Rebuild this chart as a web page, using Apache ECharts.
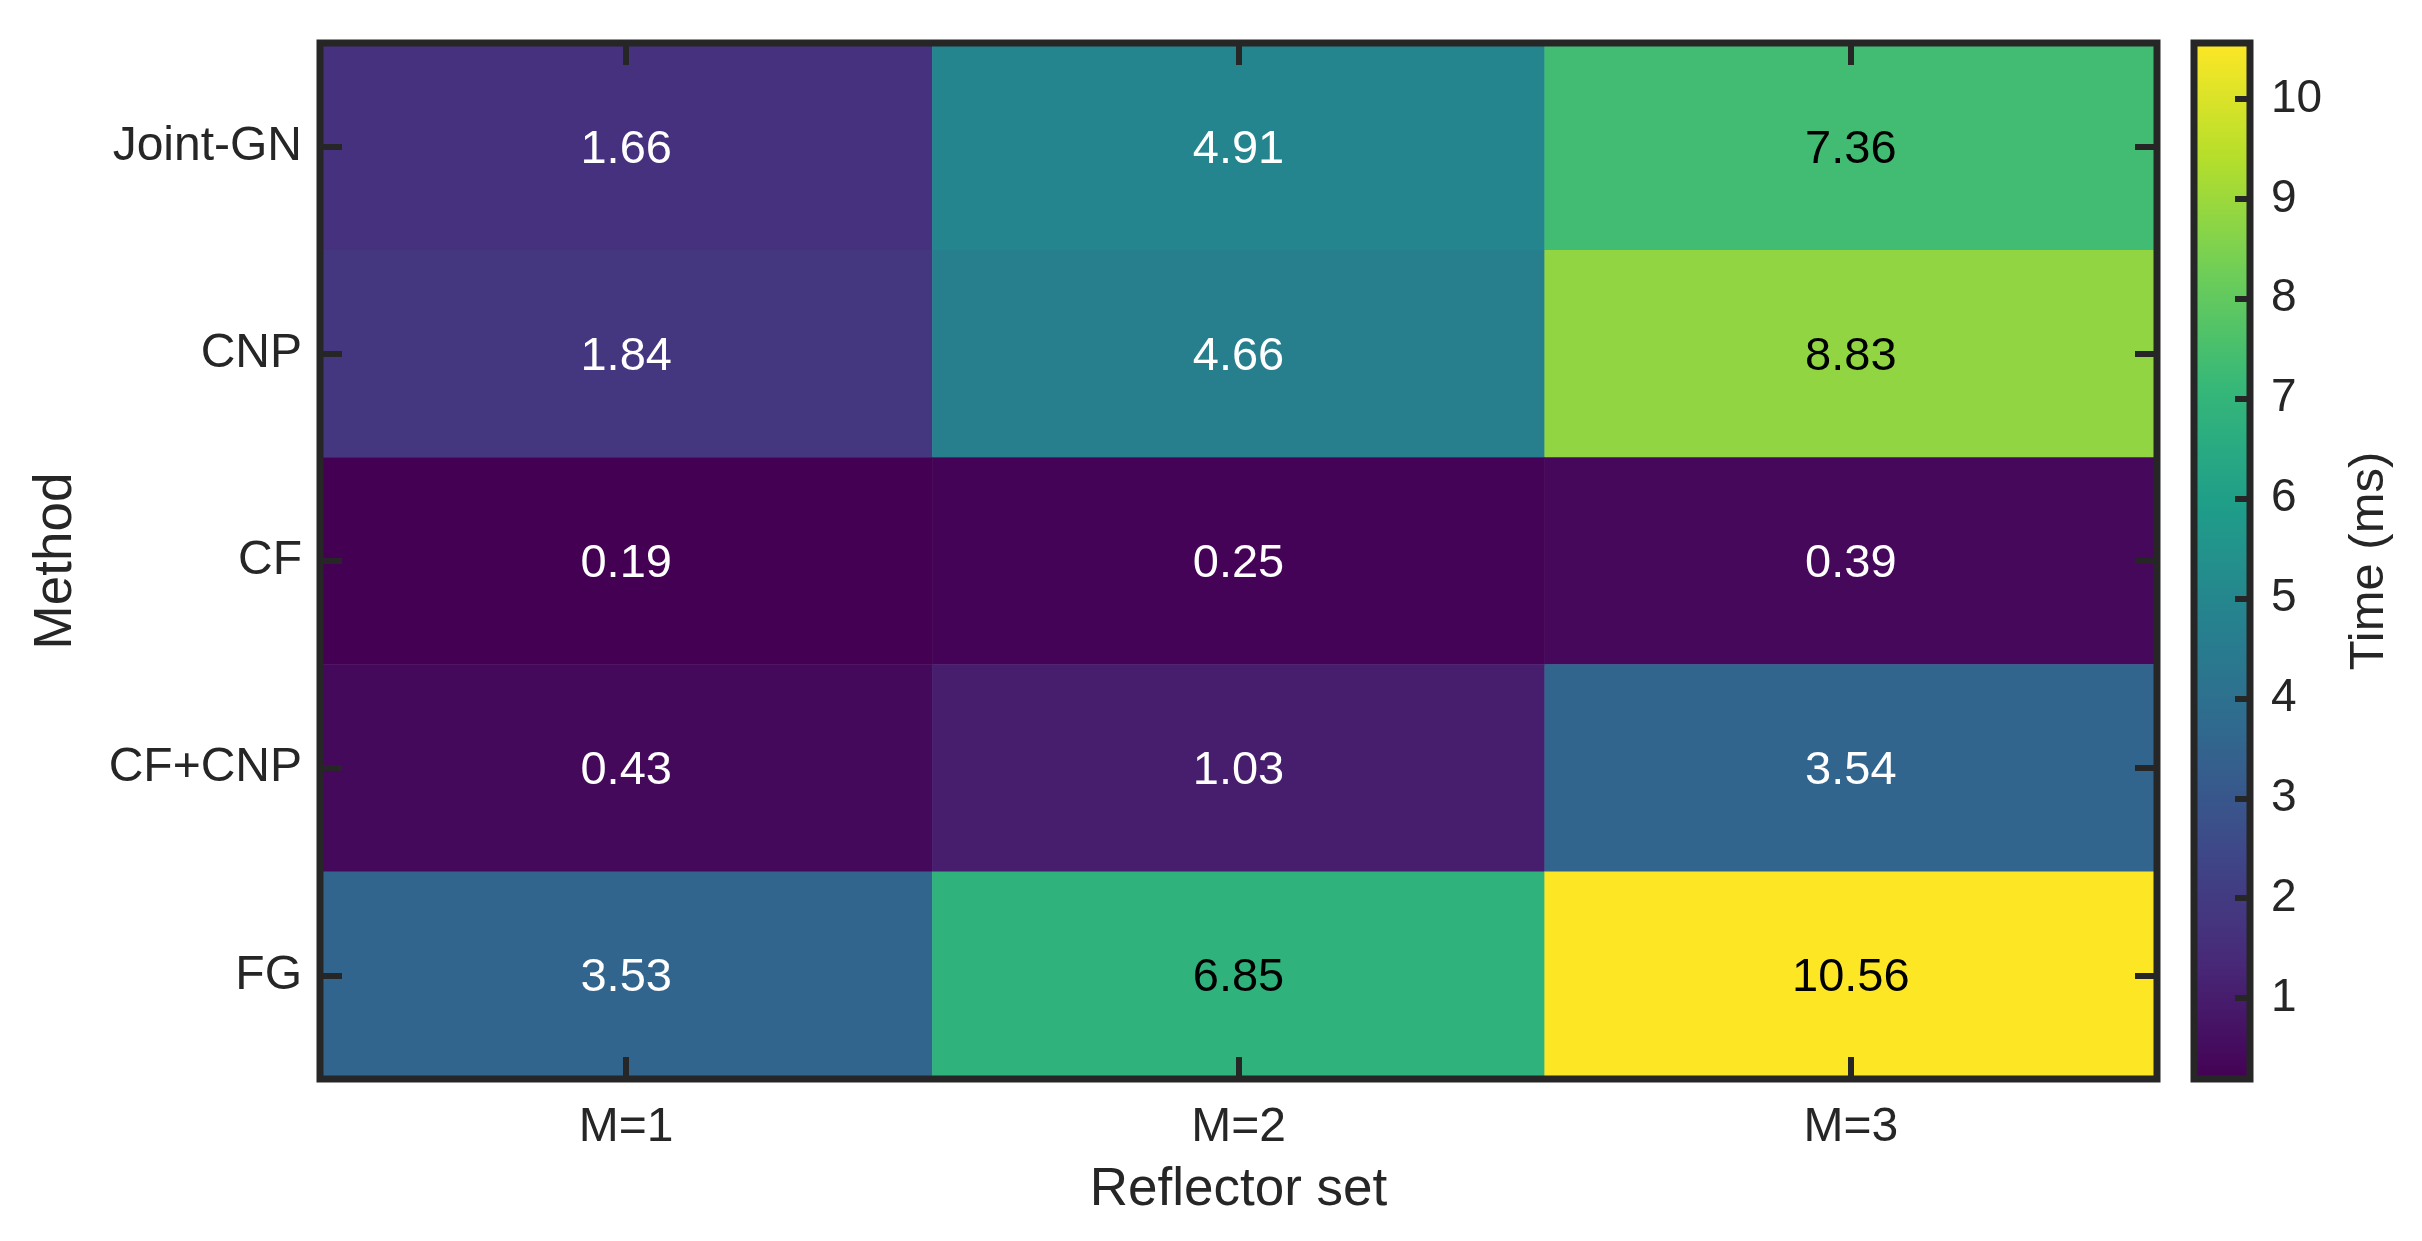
<!DOCTYPE html>
<html>
<head>
<meta charset="utf-8">
<script src="https://cdn.jsdelivr.net/npm/echarts@6/dist/echarts.min.js"></script>
<style>
  html, body { margin: 0; padding: 0; background: #fff; }
  #chart { width: 2422px; height: 1241px; }
</style>
</head>
<body>
<div id="chart"></div>
<script>
// reflector sets (columns) and methods (rows, top to bottom)
var reflectorSets = ['M=1', 'M=2', 'M=3'];
var methods = ['Joint-GN', 'CNP', 'CF', 'CF+CNP', 'FG'];

// time in ms, one array per method, ordered as reflectorSets
var jointGN = [1.66, 4.91, 7.36];
var cnp = [1.84, 4.66, 8.83];
var cf = [0.19, 0.25, 0.39];
var cfCnp = [0.43, 1.03, 3.54];
var fg = [3.53, 6.85, 10.56];

var colorbarTicks = [1, 2, 3, 4, 5, 6, 7, 8, 9, 10];

var viridis = ['#440154', '#482878', '#3e4989', '#31688e', '#26828e',
               '#1f9e89', '#35b779', '#6ece58', '#b5de2b', '#fde725'];

var rows = [jointGN, cnp, cf, cfCnp, fg];
var allVals = [].concat.apply([], rows);
var vMin = Math.min.apply(null, allVals);
var vMax = Math.max.apply(null, allVals);

var FONT = 'Liberation Sans';
var INK = '#262626';

// heatmap cells [x, y, value], text colour switches on the light half of the map
var cells = [];
rows.forEach(function (r, j) {
  r.forEach(function (v, i) {
    var t = (v - vMin) / (vMax - vMin);
    cells.push({ value: [i, j, v], label: { color: t > 0.5 ? '#000' : '#fff' } });
  });
});

var chart = echarts.init(document.getElementById('chart'));

var tickStyle = { show: true, inside: true, alignWithLabel: true, length: 22,
                  lineStyle: { color: INK, width: 6 } };

var option = {
  backgroundColor: '#fff',
  animation: false,
  textStyle: { fontFamily: FONT },
  grid: [
    { left: 320, top: 43, width: 1837, height: 1036, show: true, z: 3,
      backgroundColor: 'transparent', borderColor: INK, borderWidth: 7 },
    { left: 2194, top: 43, width: 56, height: 1036, show: true, z: 5,
      backgroundColor: 'transparent', borderColor: INK, borderWidth: 7 }
  ],
  xAxis: [
    { type: 'category', gridIndex: 0, data: reflectorSets, position: 'bottom', z: 10,
      axisLine: { show: false }, axisTick: tickStyle, splitLine: { show: false },
      axisLabel: { fontSize: 48, color: INK, margin: 25, fontFamily: FONT },
      name: 'Reflector set', nameLocation: 'middle', nameGap: 85,
      nameTextStyle: { fontSize: 53, color: INK, fontFamily: FONT } },
    { type: 'category', gridIndex: 0, data: reflectorSets, position: 'top', z: 10,
      axisLine: { show: false }, axisTick: tickStyle, axisLabel: { show: false },
      splitLine: { show: false } },
    { type: 'category', gridIndex: 1, data: [''], show: false }
  ],
  yAxis: [
    { type: 'category', gridIndex: 0, data: methods, inverse: true, position: 'left', z: 10,
      axisLine: { show: false }, axisTick: tickStyle, splitLine: { show: false },
      axisLabel: { fontSize: 48, color: INK, margin: 18, fontFamily: FONT,
                   padding: [6, 0, 0, 0] },
      name: 'Method', nameLocation: 'middle', nameGap: 237,
      nameTextStyle: { fontSize: 53, color: INK, fontFamily: FONT } },
    { type: 'category', gridIndex: 0, data: methods, inverse: true, position: 'right', z: 10,
      axisLine: { show: false }, axisTick: tickStyle, axisLabel: { show: false },
      splitLine: { show: false } },
    { type: 'value', gridIndex: 1, min: vMin, max: vMax, position: 'right', z: 10,
      axisLine: { show: false, onZero: false }, splitLine: { show: false },
      axisTick: { show: true, inside: true, length: 15, customValues: colorbarTicks,
                  lineStyle: { color: INK, width: 6 } },
      axisLabel: { customValues: colorbarTicks, fontSize: 46, color: INK, margin: 21,
                   fontFamily: FONT, padding: [6, 0, 0, 0] },
      name: 'Time (ms)', nameLocation: 'middle', nameRotate: 90, nameGap: 95,
      nameTextStyle: { fontSize: 49, color: INK, fontFamily: FONT } }
  ],
  visualMap: {
    type: 'continuous', min: vMin, max: vMax, seriesIndex: 0, dimension: 2,
    calculable: false, hoverLink: false, padding: 0, z: 1,
    left: 2194, top: 43, itemWidth: 56, itemHeight: 1036,
    inRange: { color: viridis }
  },
  series: [{
    type: 'heatmap',
    xAxisIndex: 0, yAxisIndex: 0,
    data: cells,
    label: {
      show: true, fontSize: 47, fontFamily: FONT, offset: [0, 3],
      formatter: function (p) { return p.value[2].toFixed(2); }
    },
    emphasis: { disabled: true }
  }]
};

chart.setOption(option);
</script>
</body>
</html>
